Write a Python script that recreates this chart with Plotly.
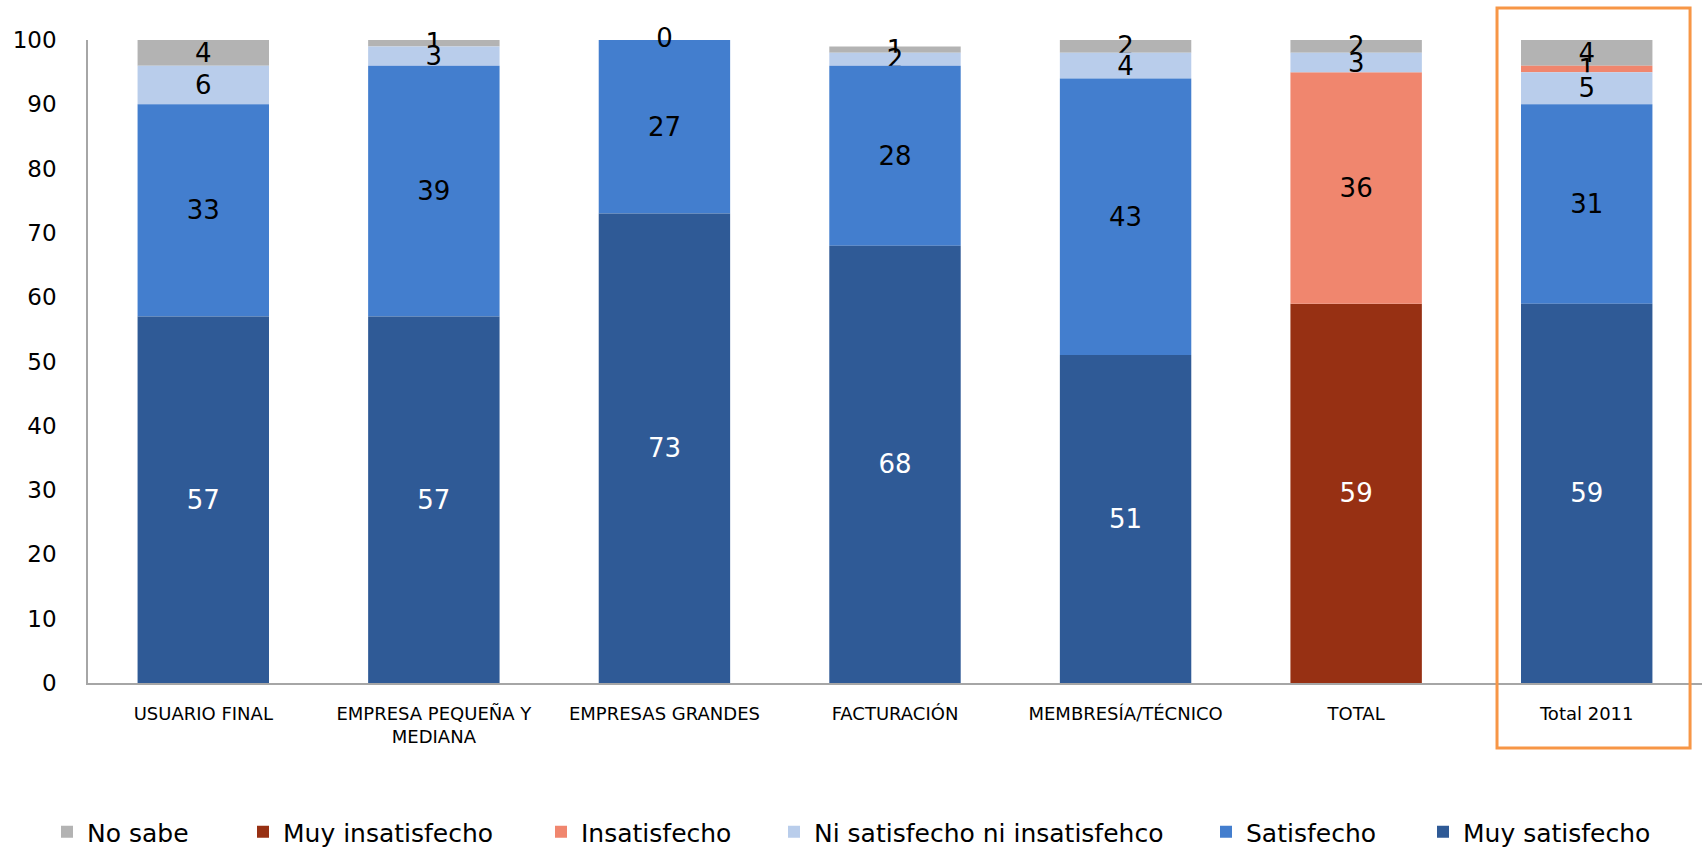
import plotly.graph_objects as go

# Satisfaction survey by customer segment (percent of respondents)
categories = [
    "USUARIO FINAL",
    "EMPRESA PEQUEÑA Y<br>MEDIANA",
    "EMPRESAS GRANDES",
    "FACTURACIÓN",
    "MEMBRESÍA/TÉCNICO",
    "TOTAL",
    "Total 2011",
]

muy_satisfecho = [57, 57, 73, 68, 51, 0, 59]
satisfecho = [33, 39, 27, 28, 43, 0, 31]
ni_satisfecho = [6, 3, 0, 2, 4, 3, 5]
insatisfecho = [0, 0, 0, 0, 0, 36, 1]
muy_insatisfecho = [0, 0, 0, 0, 0, 59, 0]
no_sabe = [4, 1, 0, 1, 2, 2, 4]

# zero-valued segments that still carry a printed label
labelled_zero = [("No sabe", 2)]

series = {
    "Muy satisfecho": (muy_satisfecho, "#2F5A96", "white"),
    "Satisfecho": (satisfecho, "#437ECE", "black"),
    "Ni satisfecho ni insatisfehco": (ni_satisfecho, "#B9CDEB", "black"),
    "Insatisfecho": (insatisfecho, "#F0866E", "black"),
    "Muy insatisfecho": (muy_insatisfecho, "#973013", "white"),
    "No sabe": (no_sabe, "#B3B3B3", "black"),
}

default_order = ["Muy satisfecho", "Satisfecho", "Ni satisfecho ni insatisfehco",
                 "Insatisfecho", "Muy insatisfecho", "No sabe"]
# the TOTAL column stacks the dissatisfied segments at the bottom
total_order = ["Muy insatisfecho", "Insatisfecho", "Ni satisfecho ni insatisfehco",
               "Satisfecho", "Muy satisfecho", "No sabe"]

# cumulative base of every segment, per column
bases = {name: [0] * len(categories) for name in series}
for i, cat in enumerate(categories):
    order = total_order if cat == "TOTAL" else default_order
    run = 0
    for name in order:
        bases[name][i] = run
        run += series[name][0][i]

legend_order = ["No sabe", "Muy insatisfecho", "Insatisfecho",
                "Ni satisfecho ni insatisfehco", "Satisfecho", "Muy satisfecho"]
# left edge (px) of each legend entry along the bottom row
legend_left_px = [47, 243, 541, 774, 1206, 1423]

FONT = "DejaVu Sans"
PLOT_L, PLOT_W, PLOT_T, PLOT_H = 88, 1614, 40, 643

fig = go.Figure()
legend_layouts = {}
for k, name in enumerate(legend_order):
    vals, color, tcolor = series[name]
    texts = [str(v) if v > 0 else "" for v in vals]
    lg = "legend" if k == 0 else f"legend{k + 1}"
    fig.add_trace(go.Bar(
        name=name,
        x=categories,
        y=vals,
        base=bases[name],
        marker=dict(color=color, line=dict(width=0)),
        text=texts,
        textposition="inside",
        insidetextanchor="middle",
        textangle=0,
        constraintext="none",
        textfont=dict(family=FONT, size=26, color=tcolor),
        cliponaxis=False,
        width=0.57,
        legend=lg,
    ))
    legend_layouts[lg] = dict(
        orientation="h",
        xref="paper",
        x=(legend_left_px[k] - PLOT_L) / PLOT_W,
        xanchor="left",
        yref="paper",
        y=(PLOT_T + PLOT_H - 832) / PLOT_H,
        yanchor="middle",
        font=dict(family=FONT, size=25, color="black"),
        bgcolor="rgba(0,0,0,0)",
        itemwidth=30,
    )

# labels of zero-height segments, placed at the segment position
zx = [categories[i] for _, i in labelled_zero]
zy = [bases[n][i] + series[n][0][i] / 2 for n, i in labelled_zero]
zt = [str(series[n][0][i]) for n, i in labelled_zero]
fig.add_trace(go.Scatter(
    x=zx, y=zy, text=zt, mode="text",
    textfont=dict(family=FONT, size=26, color="black"),
    showlegend=False, cliponaxis=False, hoverinfo="skip",
))

fig.update_layout(
    barmode="overlay",
    width=1702,
    height=851,
    margin=dict(l=PLOT_L, r=0, t=PLOT_T, b=851 - PLOT_T - PLOT_H, autoexpand=False),
    paper_bgcolor="white",
    plot_bgcolor="white",
    font=dict(family=FONT, color="black"),
    uniformtext=dict(minsize=26, mode="show"),
    showlegend=True,
    xaxis=dict(
        showline=True,
        linecolor="#A6A6A6",
        linewidth=2,
        ticks="",
        tickfont=dict(family=FONT, size=18),
        ticklabelstandoff=13,
        showgrid=False,
    ),
    yaxis=dict(
        range=[0, 100],
        dtick=10,
        showline=True,
        linecolor="#A6A6A6",
        linewidth=1.5,
        ticks="",
        tickfont=dict(family=FONT, size=23),
        ticklabelstandoff=25,
        showgrid=False,
        zeroline=False,
    ),
    shapes=[dict(
        type="rect",
        xref="paper",
        yref="paper",
        x0=0.873,
        x1=0.9926,
        y0=-0.101,
        y1=1.0498,
        line=dict(color="#F79646", width=3),
        fillcolor="rgba(0,0,0,0)",
    )],
    **legend_layouts,
)

fig.write_html("out.html")
